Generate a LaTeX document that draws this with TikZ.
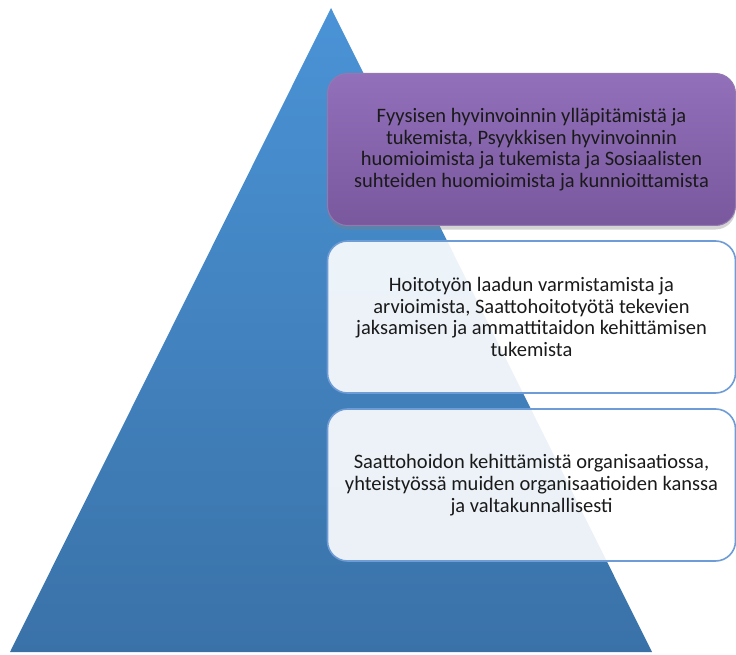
\documentclass[tikz,border=0pt]{standalone}
\usepackage{fontspec}
\setmainfont{Carlito}
\usetikzlibrary{shadows}
\definecolor{triTop}{HTML}{4A93D6}
\definecolor{triBot}{HTML}{3A72A8}
\definecolor{purTop}{HTML}{9270BA}
\definecolor{purBot}{HTML}{79589E}
\definecolor{boxLine}{HTML}{6E9CD6}
\definecolor{txt}{HTML}{1A1A1A}
\tikzset{
  tier/.style={rounded corners=20pt, minimum width=408pt, minimum height=152pt,
    align=center, font=\fontsize{20.5}{21.7}\selectfont, text=txt,
    inner sep=0pt},
  purplebox/.style={tier, draw=purBot!80!white, line width=1pt, top color=purTop, bottom color=purBot,
    drop shadow={shadow xshift=0pt, shadow yshift=-4pt, opacity=0.35}},
  whitebox/.style={tier, draw=boxLine, line width=1.6pt, fill=white, fill opacity=0.9, text opacity=1}
}
\begin{document}
\begin{tikzpicture}[x=1pt,y=-1pt]
\useasboundingbox (0,0) rectangle (736,655);
\coordinate (apex) at (331,8);
\coordinate (bl) at (10,652);
\coordinate (br) at (652,652);
\shade[top color=triTop, bottom color=triBot] (apex) -- (br) -- (bl) -- cycle;
\node[purplebox] (p1) at (531.5,149.5) {Fyysisen hyvinvoinnin ylläpitämistä ja\\ tukemista, Psyykkisen hyvinvoinnin\\ huomioimista ja tukemista ja Sosiaalisten\\ suhteiden huomioimista ja kunnioittamista};
\node[whitebox] (p2) at (531.5,317) {Hoitotyön laadun varmistamista ja\\ arvioimista, Saattohoitotyötä tekevien\\ jaksamisen ja ammattitaidon kehittämisen\\ tukemista};
\node[whitebox] (p3) at (531.5,485) {Saattohoidon kehittämistä organisaatiossa,\\ yhteistyössä muiden organisaatioiden kanssa\\ ja valtakunnallisesti};
\end{tikzpicture}
\end{document}
